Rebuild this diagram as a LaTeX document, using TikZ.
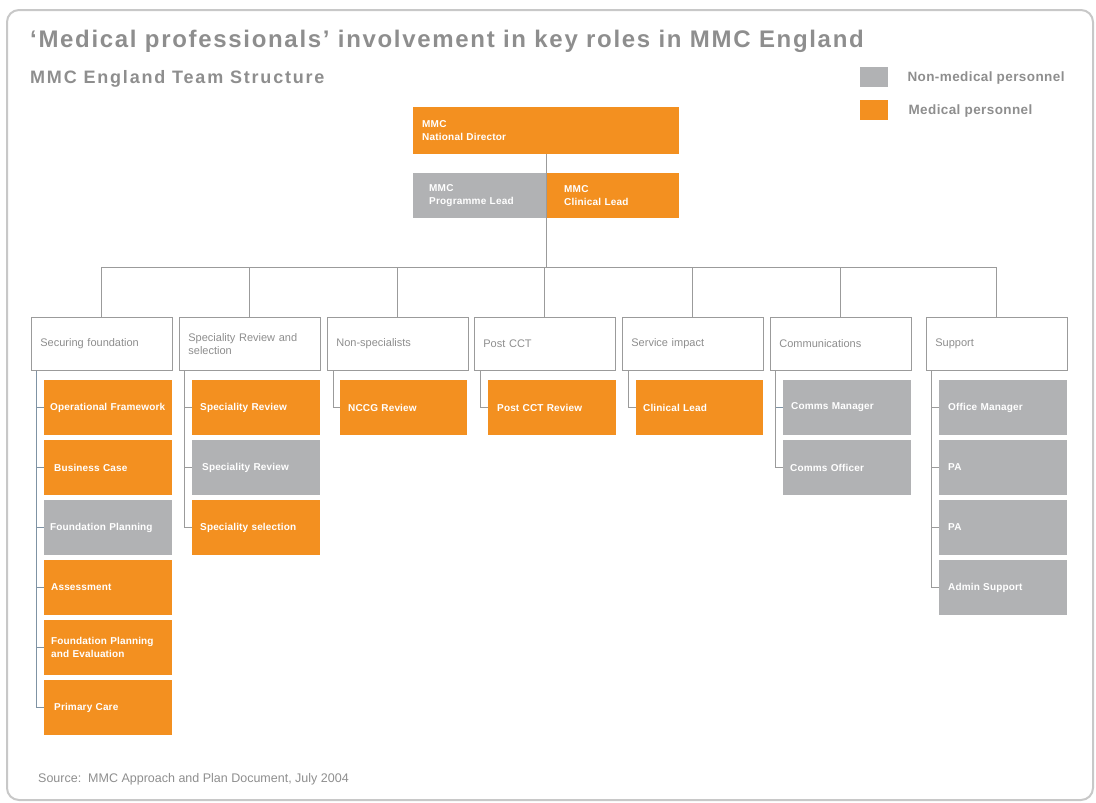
\documentclass[tikz,border=0pt]{standalone}
\usepackage{fontspec}
\setmainfont{Liberation Sans}
\definecolor{medorange}{HTML}{F39020}
\definecolor{nongray}{HTML}{B1B2B4}
\definecolor{txtgray}{HTML}{8E8E8E}
\definecolor{framegray}{HTML}{C8C8C8}
\definecolor{linegray}{HTML}{9B9B9B}
\definecolor{linebluegray}{HTML}{7F93A4}
\begin{document}
\begin{tikzpicture}[x=1pt,y=-1pt,
  med/.style={fill=medorange},
  nonmed/.style={fill=nongray},
  topbox/.style={anchor=north west, minimum height=47, align=left, text=white,
     font=\bfseries\fontsize{10}{13.5}\selectfont\addfontfeatures{LetterSpace=2}},
  head/.style={draw=linegray, line width=0.8pt, fill=white, anchor=north west,
     minimum height=53, inner xsep=9, text width=123, align=left, text=txtgray,
     font=\fontsize{11}{13}\selectfont},
  child/.style={anchor=north west, minimum height=54.5, inner xsep=6,
     text width=116, align=left, text=white,
     font=\bfseries\fontsize{10}{13}\selectfont\addfontfeatures{LetterSpace=1.5}},
  conn/.style={draw=linegray, line width=0.9pt},
  connb/.style={draw=linebluegray, line width=1pt},
  legendbox/.style={anchor=north west, minimum width=28, minimum height=20, inner sep=0},
  legendtext/.style={anchor=west, text=txtgray,
     font=\bfseries\fontsize{13.5}{15}\selectfont\addfontfeatures{LetterSpace=3}},
]
\useasboundingbox (0,0) rectangle (1096,803);
% frame
\draw[framegray, line width=2pt, rounded corners=12] (7,10) rectangle (1093,800);
% titles
\node[anchor=base west, inner sep=0, text=txtgray, font=\bfseries\fontsize{24}{27}\selectfont\addfontfeatures{LetterSpace=7}] (title) at (30,47) {‘Medical professionals’ involvement in key roles in MMC England};
\node[anchor=base west, inner sep=0, text=txtgray, font=\bfseries\fontsize{18}{20}\selectfont\addfontfeatures{LetterSpace=10}] (subtitle) at (30,83) {MMC England Team Structure};
% legend
\node[legendbox, nonmed] (lg1) at (860,67) {};
\node[legendtext] (lt1) at (904,78) {Non-medical personnel};
\node[legendbox, med] (lg2) at (860,100) {};
\node[legendtext] (lt2) at (905,111) {Medical personnel};
% top
\node[topbox, med, minimum width=266, inner xsep=9, text width=248] (nd) at (413,107) {MMC\\National Director};
\node[topbox, nonmed, minimum height=45, inner xsep=16, text width=101] (pl) at (413,173) {MMC\\Programme Lead};
\node[topbox, med, minimum height=45, inner xsep=18, text width=97] (cl) at (546,173) {MMC\\Clinical Lead};
% headers
\node[head] (h1) at (31,317) {Securing foundation};
\node[head] (h2) at (179,317) {Speciality Review and selection};
\node[head] (h3) at (327,317) {Non-specialists};
\node[head] (h4) at (474,317) {Post CCT};
\node[head] (h5) at (622,317) {Service impact};
\node[head] (h6) at (770,317) {Communications};
\node[head] (h7) at (926,317) {Support};
% tree lines
\coordinate (bus) at (546,267);
\draw[conn] (nd.south) -- (nd.south |- bus);
\draw[conn] (h1.north |- bus) -- (h7.north |- bus);
\foreach \h in {h1,h2,h3,h4,h5,h6,h7}{
  \draw[conn] (\h.north) -- (\h.north |- bus);
}
% children column 1
\node[child, med] (c11) at (44,380) {Operational Framework};
\node[child, med, inner xsep=10, text width=108] (c12) at (44,440) {Business Case};
\node[child, nonmed] (c13) at (44,500) {Foundation Planning};
\node[child, med, inner xsep=7, text width=114] (c14) at (44,560) {Assessment};
\node[child, med, inner xsep=7, text width=114] (c15) at (44,620) {Foundation Planning\\and Evaluation};
\node[child, med, inner xsep=10, text width=108] (c16) at (44,680) {Primary Care};
% column 2
\node[child, med, inner xsep=8, text width=112] (c21) at (192,380) {Speciality Review};
\node[child, nonmed, inner xsep=10, text width=108] (c22) at (192,440) {Speciality Review};
\node[child, med, inner xsep=8, text width=112] (c23) at (192,500) {Speciality selection};
% columns 3-5
\node[child, med, inner xsep=8, text width=111] (c31) at (340,380) {NCCG Review};
\node[child, med, inner xsep=9, text width=110] (c41) at (488,380) {Post CCT Review};
\node[child, med, inner xsep=7, text width=113] (c51) at (636,380) {Clinical Lead};
% column 6
\node[child, nonmed, inner xsep=8, text width=112] (c61) at (783,380) {Comms Manager};
\node[child, nonmed, inner xsep=7, text width=114] (c62) at (783,440) {Comms Officer};
% column 7
\node[child, nonmed, inner xsep=9, text width=110] (c71) at (939,380) {Office Manager};
\node[child, nonmed, inner xsep=9, text width=110] (c72) at (939,440) {PA};
\node[child, nonmed, inner xsep=9, text width=110] (c73) at (939,500) {PA};
\node[child, nonmed, inner xsep=9, text width=110] (c74) at (939,560) {Admin Support};
% child connectors
\foreach \c in {c11,c12,c13,c14,c15,c16}{
  \draw[connb] ([xshift=5pt]h1.south west) |- (\c.west);
}
\foreach \c in {c21,c22,c23}{
  \draw[conn] ([xshift=5pt]h2.south west) |- (\c.west);
}
\draw[conn] ([xshift=6pt]h3.south west) |- (c31.west);
\draw[conn] ([xshift=6pt]h4.south west) |- (c41.west);
\draw[conn] ([xshift=6pt]h5.south west) |- (c51.west);
\draw[connb] ([xshift=5pt]h6.south west) |- (c61.west);
\draw[conn] ([xshift=5pt]h6.south west) |- (c62.west);
\foreach \c in {c71,c72,c73,c74}{
  \draw[conn] ([xshift=5pt]h7.south west) |- (\c.west);
}
% source
\node[anchor=base west, inner sep=0, text=txtgray, font=\fontsize{12.5}{14}\selectfont] (src) at (38,782) {Source:\ \ MMC Approach and Plan Document, July 2004};
\end{tikzpicture}
\end{document}
